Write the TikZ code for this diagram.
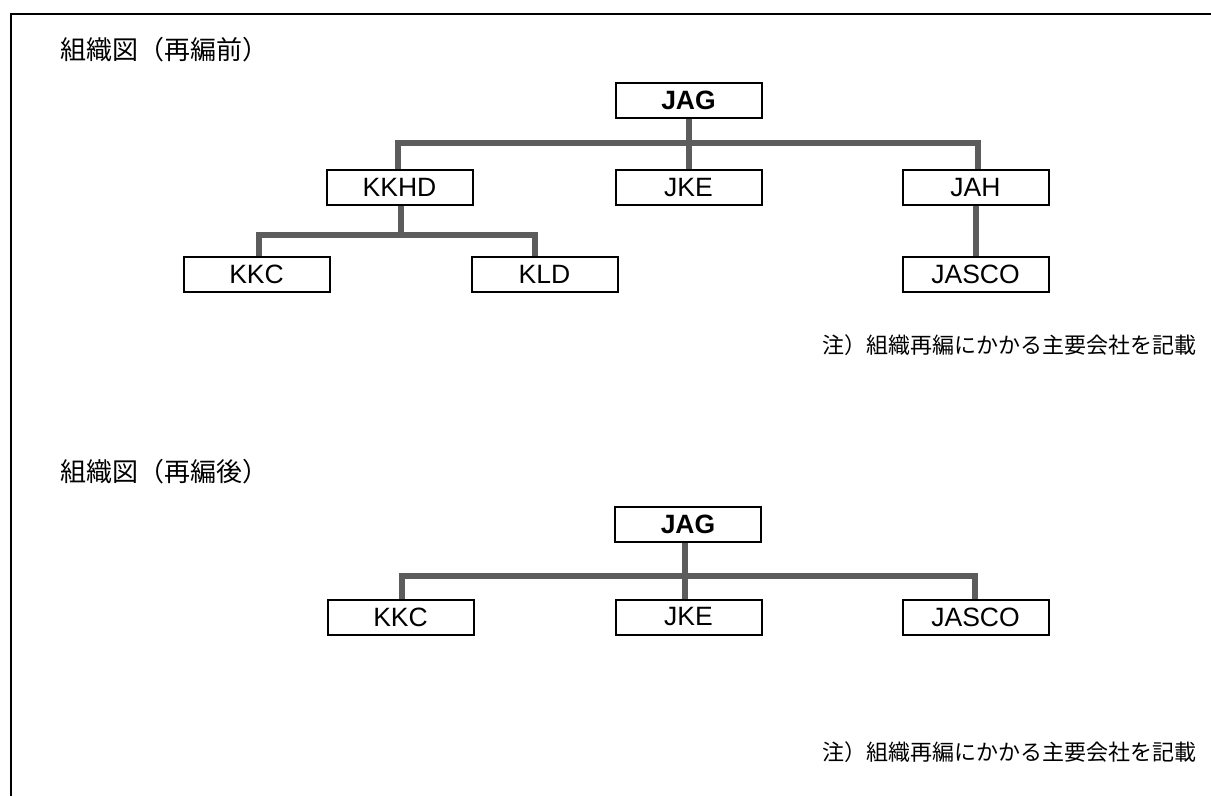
\documentclass[tikz,border=0pt]{standalone}
\usepackage{fontspec}
\setmainfont{Liberation Sans}
\newfontfamily\jpfont{Noto Sans CJK JP}
\begin{document}
\begin{tikzpicture}[x=1pt, y=-1pt,
    company/.style={draw, line width=2pt, minimum width=146pt, minimum height=35pt,
        inner sep=0pt, font=\fontsize{26.5}{30}\selectfont},
    link/.style={line width=6pt, draw={rgb,255:red,92;green,92;blue,92}, line cap=rect},
    heading/.style={anchor=west, inner sep=0pt, font=\jpfont\fontsize{26}{30}\selectfont},
    remark/.style={anchor=east, inner sep=0pt, font=\jpfont\fontsize{22}{26}\selectfont}]
    \useasboundingbox (0,0) rectangle (1211,796);

    % frame
    \draw [line width=2pt] (11,796) -- (11,14) -- (1211,14);

    % before
    \node [heading] (title1) at (60,50) {組織図（再編前）};
    \node [company, font=\fontsize{26.5}{30}\selectfont\bfseries] (jag) at (688.5,100.5) {JAG};
    \node [company] (kkhd) at (399.5,187.5) {KKHD};
    \node [company] (jke) at (688.5,187.5) {JKE};
    \node [company] (jah) at (975.5,187.5) {JAH};
    \node [company] (kkc) at (256.5,274.5) {KKC};
    \node [company] (kld) at (544.5,274.5) {KLD};
    \node [company] (jasco) at (975.5,274.5) {JASCO};
    \node [remark] (note1) at (1197,345) {注）組織再編にかかる主要会社を記載};

    \coordinate (bar1l) at (398,143);
    \coordinate (bar1r) at (978,143);
    \coordinate (bar2l) at (259,235);
    \coordinate (bar2r) at (535,235);

    \draw [link] (bar1l) -- (bar1r);
    \draw [link, line cap=butt] (jag.south) -- (jke.north);
    \draw [link, line cap=butt] (bar1l) -- (bar1l |- kkhd.north);
    \draw [link, line cap=butt] (bar1r) -- (bar1r |- jah.north);
    \draw [link] (bar2l) -- (bar2r);
    \draw [link, line cap=butt] ([xshift=1pt]kkhd.south) -- ([xshift=1pt]kkhd.south |- bar2l);
    \draw [link, line cap=butt] (bar2l) -- (bar2l |- kkc.north);
    \draw [link, line cap=butt] (bar2r) -- (bar2r |- kld.north);
    \draw [link, line cap=butt] (jah.south) -- (jasco.north);

    % after
    \node [heading] (title2) at (60,472) {組織図（再編後）};
    \node [company, font=\fontsize{26.5}{30}\selectfont\bfseries] (jagn) at (688,524.5) {JAG};
    \node [company] (kkcn) at (400.5,617) {KKC};
    \node [company] (jken) at (688.5,617) {JKE};
    \node [company] (jascon) at (975.5,617) {JASCO};
    \node [remark] (note2) at (1197,752) {注）組織再編にかかる主要会社を記載};

    \coordinate (bar3l) at (402,576);
    \coordinate (bar3r) at (975,576);

    \draw [link] (bar3l) -- (bar3r);
    \draw [link, line cap=butt] ([xshift=-3pt]jagn.south) -- ([xshift=-3pt]jagn.south |- jken.north);
    \draw [link, line cap=butt] (bar3l) -- (bar3l |- kkcn.north);
    \draw [link, line cap=butt] (bar3r) -- (bar3r |- jascon.north);
\end{tikzpicture}
\end{document}
